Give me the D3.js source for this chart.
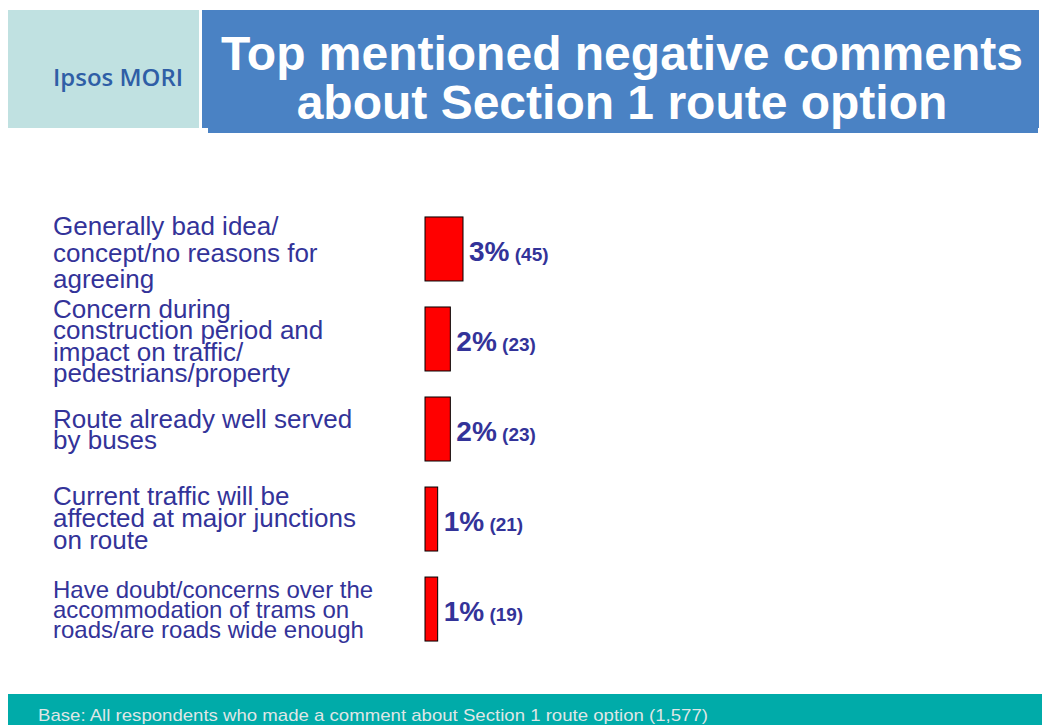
<!DOCTYPE html>
<html>
<head>
<meta charset="utf-8">
<script src="https://cdn.jsdelivr.net/npm/d3@7"></script>
<style>
  body { margin: 0; background: #fff; }
  svg { display: block; }
</style>
</head>
<body>
<svg id="chart" width="1042" height="725"></svg>
<script>
// data
let categories = [
  "Generally bad idea/ concept/no reasons for agreeing",
  "Concern during construction period and impact on traffic/ pedestrians/property",
  "Route already well served by buses",
  "Current traffic will be affected at major junctions on route",
  "Have doubt/concerns over the accommodation of trams on roads/are roads wide enough"
];
let labelLines = [
  ["Generally bad idea/", "concept/no reasons for", "agreeing"],
  ["Concern during", "construction period and", "impact on traffic/", "pedestrians/property"],
  ["Route already well served", "by buses"],
  ["Current traffic will be", "affected at major junctions", "on route"],
  ["Have doubt/concerns over the", "accommodation of trams on", "roads/are roads wide enough"]
];
let percents = [3, 2, 2, 1, 1];
let counts = [45, 23, 23, 21, 19];

let titleLines = ["Top mentioned negative comments", "about Section 1 route option"];
let baseNote = "Base: All respondents who made a comment about Section 1 route option (1,577)";

// look of the category labels (font size, line height, nudge)
let labelFont = [26, 26, 26, 26, 24];
let labelLead = [26.5, 21.5, 21, 22, 20];
let labelNudge = [4, 2, 0, -1, 0];

let textBlue = '#333399';
let svg = d3.select('#chart');

// header
svg.append('rect').attr('x', 8).attr('y', 10).attr('width', 191).attr('height', 118).attr('fill', '#c0e1e1');
svg.append('text')
  .attr('x', 53).attr('y', 86)
  .attr('textLength', 130).attr('lengthAdjust', 'spacingAndGlyphs')
  .style('font-family', '"Open Sans", sans-serif').style('font-weight', 600)
  .style('font-size', '23px').attr('fill', '#2f5ea6')
  .text('Ipsos MORI');

svg.append('rect').attr('x', 208).attr('y', 15).attr('width', 830).attr('height', 118).attr('fill', '#4a82c4');
svg.append('rect').attr('x', 202).attr('y', 10).attr('width', 837).attr('height', 118).attr('fill', '#4a82c4');

svg.append('g').selectAll('text')
  .data(titleLines)
  .join('text')
  .attr('x', 622)
  .attr('y', (d, i) => 70 + i * 49)
  .attr('text-anchor', 'middle')
  .style('font-family', '"Liberation Sans", Arial, sans-serif')
  .style('font-weight', 'bold').style('font-size', '48px')
  .attr('fill', '#fff')
  .text(d => d);

// scales
let x = d3.scaleLinear().domain([0, 3]).range([425, 463]);
let y = d3.scaleBand().domain(categories).range([204, 654]).paddingInner(0.289).paddingOuter(0.144);

// bars
svg.append('g').selectAll('rect')
  .data(categories)
  .join('rect')
  .attr('x', x(0))
  .attr('y', d => y(d))
  .attr('width', (d, i) => x(percents[i]) - x(0))
  .attr('height', y.bandwidth())
  .attr('fill', '#ff0000')
  .attr('stroke', '#000')
  .attr('stroke-width', 1);

// value labels
let vals = svg.append('g').selectAll('text')
  .data(categories)
  .join('text')
  .attr('x', (d, i) => x(percents[i]) + 6)
  .attr('y', d => y(d) + y.bandwidth() / 2 + 12)
  .style('font-family', '"Liberation Sans", Arial, sans-serif')
  .style('font-weight', 'bold')
  .attr('fill', textBlue);
vals.append('tspan').style('font-size', '28px').text((d, i) => percents[i] + '%');
vals.append('tspan').style('font-size', '19px').text((d, i) => ' (' + counts[i] + ')');

// category labels
let labs = svg.append('g').selectAll('text')
  .data(categories)
  .join('text')
  .style('font-family', '"Liberation Sans", Arial, sans-serif')
  .style('font-size', (d, i) => labelFont[i] + 'px')
  .attr('fill', textBlue);

labs.each(function(d, i) {
  let lines = labelLines[i];
  let mid = y(d) + y.bandwidth() / 2;
  let first = mid - (lines.length - 1) * labelLead[i] / 2 + 9 + labelNudge[i];
  d3.select(this).selectAll('tspan')
    .data(lines)
    .join('tspan')
    .attr('x', 53)
    .attr('y', (l, j) => first + j * labelLead[i])
    .text(l => l);
});

// footer
svg.append('rect').attr('x', 8).attr('y', 694).attr('width', 1034).attr('height', 31).attr('fill', '#00aba9');
svg.append('text')
  .attr('x', 38).attr('y', 721)
  .attr('textLength', 670).attr('lengthAdjust', 'spacingAndGlyphs')
  .style('font-family', '"Liberation Sans Narrow", "Liberation Sans", Arial, sans-serif')
  .style('font-size', '17px')
  .attr('fill', '#dfe6e6')
  .text(baseNote);
</script>
</body>
</html>
